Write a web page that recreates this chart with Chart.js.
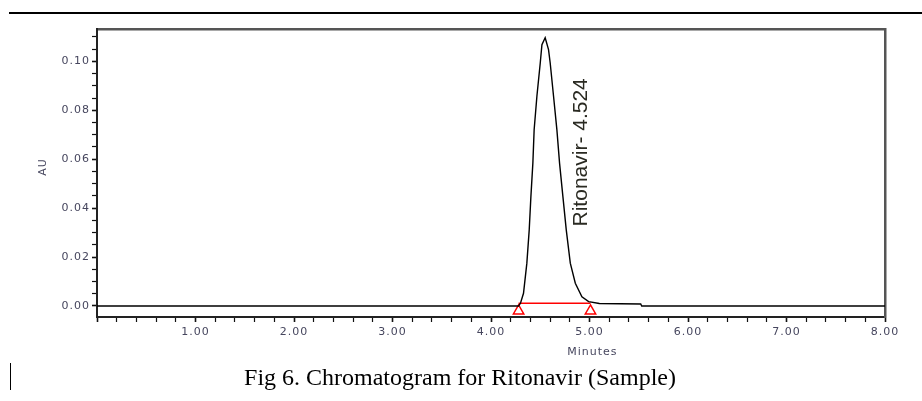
<!DOCTYPE html>
<html>
<head>
<meta charset="utf-8">
<script src="https://cdn.jsdelivr.net/npm/chart.js@4.4.1/dist/chart.umd.min.js"></script>
<style>
    body { margin: 0; background: #fff; }
    #wrap { position: relative; width: 922px; height: 401px; overflow: hidden; }
    #chart-box { position: absolute; left: 0; top: 0; width: 922px; height: 401px; }
    #rule { position: absolute; left: 9px; right: 0; top: 12px; border-top: 2px solid #000; }
    #cursor { position: absolute; left: 10px; top: 363px; width: 1px; height: 27px; background: #000; }
    #caption {
        position: absolute; left: 460px; top: 365px; transform: translateX(-50%);
        font-family: "Liberation Serif", "Times New Roman", serif; font-size: 24px;
        line-height: 24px; white-space: nowrap; color: #000;
    }
</style>
</head>
<body>
<div id="wrap">
    <div id="rule"></div>
    <div id="chart-box"><canvas id="chromatogram"></canvas></div>
    <div id="cursor"></div>
    <div id="caption">Fig 6. Chromatogram for Ritonavir (Sample)</div>
</div>
<script>
// Data trace (minutes, AU)
const times = [0.00, 4.28, 4.30, 4.330, 4.364, 4.388, 4.405, 4.425, 4.438, 4.466, 4.500, 4.517, 4.550,
    4.584, 4.601, 4.635, 4.669, 4.696, 4.730, 4.764, 4.805, 4.856, 4.923, 4.991, 5.10, 5.52, 5.53, 8.00];
const auValues = [0.0000, 0.0000, 0.0012, 0.0052, 0.0175, 0.0311, 0.0447, 0.0584, 0.0720, 0.0857, 0.0993, 0.1068, 0.1096,
    0.1048, 0.0993, 0.0857, 0.0720, 0.0584, 0.0447, 0.0311, 0.0175, 0.0093, 0.0038, 0.0018, 0.0010, 0.0008, 0.0000, 0.0000];

// Garis dasar integrasi dan penanda awal/akhir puncak
const baseTimes = [4.28, 5.01];
const baseAU = [0.0011, 0.0011];
const markerTimes = [4.28, 5.01];
const markerAU = [-0.0020, -0.0020];

// Label puncak
const peakName = 'Ritonavir';
const peakTime = '4.524';

// Sumbu
const xMin = 0, xMax = 8, xStep = 0.2;
const yMin = -0.0045, yMax = 0.1132, yStep = 0.005, yTop = 0.11;

const labelColor = '#46465e';
const axisFont = { family: '"DejaVu Sans", sans-serif', size: 11 };

function toPoints(xs, ys) {
    return xs.map((x, i) => ({ x: x, y: ys[i] }));
}

function isMultiple(v, step) {
    const r = v / step;
    return Math.abs(r - Math.round(r)) < 1e-6;
}

// Tulisan tambahan: judul sumbu dan nama puncak
const textLabels = {
    id: 'textLabels',
    beforeDraw(chart) {
        chart.ctx.letterSpacing = '1px';
    },
    afterDraw(chart) {
        const { ctx, scales } = chart;
        const x = scales.x, y = scales.y;
        ctx.save();
        ctx.fillStyle = labelColor;
        ctx.font = '11px "DejaVu Sans", sans-serif';
        ctx.textAlign = 'center';
        ctx.textBaseline = 'middle';
        ctx.fillText('Minutes', x.getPixelForValue(5.03), 352);

        ctx.save();
        ctx.translate(43, 167);
        ctx.rotate(-Math.PI / 2);
        ctx.fillText('AU', 0, 0);
        ctx.restore();

        ctx.letterSpacing = '0px';
        ctx.fillStyle = '#2a2a22';
        ctx.font = '21px "Liberation Sans", Arial, sans-serif';
        ctx.translate(x.getPixelForValue(4.92), y.getPixelForValue(0.0325));
        ctx.rotate(-Math.PI / 2);
        ctx.textAlign = 'left';
        ctx.fillText(peakName + '- ' + peakTime, 0, 0);
        ctx.restore();
        ctx.letterSpacing = '0px';
    }
};

const ctx = document.getElementById('chromatogram').getContext('2d');
const chart = new Chart(ctx, {
    type: 'line',
    data: {
        datasets: [
            {
                label: 'trace',
                data: toPoints(times, auValues),
                borderColor: '#000',
                borderWidth: 1.4,
                pointRadius: 0,
                tension: 0
            },
            {
                label: 'baseline',
                data: toPoints(baseTimes, baseAU),
                borderColor: '#ff0000',
                borderWidth: 1.4,
                pointRadius: 0
            },
            {
                label: 'markers',
                data: toPoints(markerTimes, markerAU),
                showLine: false,
                pointStyle: 'triangle',
                pointRadius: 6,
                pointBorderColor: '#ff0000',
                pointBackgroundColor: '#fff',
                pointBorderWidth: 1.5
            }
        ]
    },
    options: {
        responsive: true,
        maintainAspectRatio: false,
        animation: false,
        layout: { padding: { left: 0, top: 29, right: 37, bottom: 0 } },
        plugins: {
            legend: { display: false },
            tooltip: { enabled: false }
        },
        scales: {
            x: {
                type: 'linear',
                position: 'bottom',
                min: xMin,
                max: xMax,
                afterFit: s => { s.height = 84; },
                afterBuildTicks: s => {
                    const ticks = [];
                    for (let i = 0; i <= Math.round((xMax - xMin) / xStep); i++) {
                        ticks.push({ value: +(xMin + i * xStep).toFixed(4) });
                    }
                    s.ticks = ticks;
                },
                ticks: {
                    autoSkip: false,
                    maxRotation: 0,
                    padding: 4,
                    color: labelColor,
                    font: axisFont,
                    callback: v => (v > 0 && isMultiple(v, 1)) ? v.toFixed(2) : ''
                },
                grid: {
                    drawOnChartArea: false,
                    drawTicks: true,
                    tickLength: 5,
                    tickColor: '#111',
                    tickWidth: c => (c.tick && isMultiple(c.tick.value, 1)) ? 1.6 : 1.2
                },
                border: { display: true, color: '#222', width: 2 }
            },
            xTop: {
                type: 'linear',
                position: 'top',
                min: xMin,
                max: xMax,
                afterFit: s => { s.height = 0; },
                ticks: { display: false },
                grid: { display: false },
                border: { display: true, color: '#555', width: 2.5 }
            },
            y: {
                type: 'linear',
                position: 'left',
                min: yMin,
                max: yMax,
                afterFit: s => { s.width = 97; },
                afterBuildTicks: s => {
                    const ticks = [];
                    for (let i = 0; i <= Math.round(yTop / yStep); i++) {
                        ticks.push({ value: +(i * yStep).toFixed(4) });
                    }
                    s.ticks = ticks;
                },
                ticks: {
                    autoSkip: false,
                    padding: 2,
                    color: labelColor,
                    font: axisFont,
                    callback: v => isMultiple(v, 0.02) ? v.toFixed(2) : ''
                },
                grid: {
                    drawOnChartArea: false,
                    drawTicks: true,
                    tickLength: 5,
                    tickColor: '#111',
                    tickWidth: c => (c.tick && isMultiple(c.tick.value, 0.02)) ? 1.6 : 1.2
                },
                border: { display: true, color: '#222', width: 2 }
            },
            yRight: {
                type: 'linear',
                position: 'right',
                min: yMin,
                max: yMax,
                afterFit: s => { s.width = 0; },
                ticks: { display: false },
                grid: { display: false },
                border: { display: true, color: '#555', width: 2.5 }
            }
        }
    },
    plugins: [textLabels]
});
</script>
</body>
</html>
